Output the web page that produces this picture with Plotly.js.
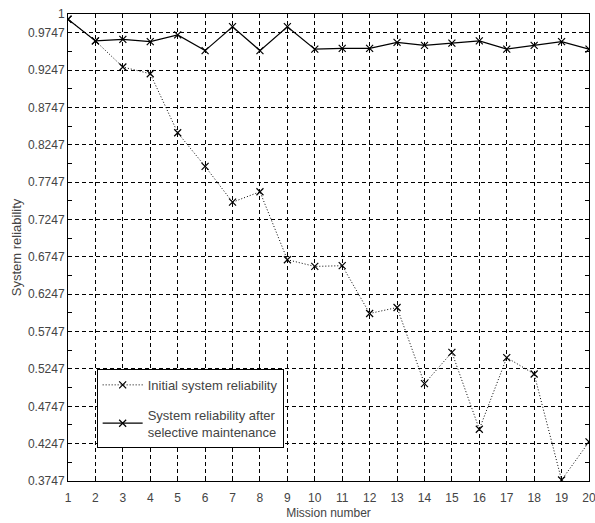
<!DOCTYPE html>
<html>
<head>
<meta charset="utf-8">
<script src="https://cdn.plot.ly/plotly-3.0.1.min.js"></script>
<style>html,body{margin:0;padding:0;background:#fff;}#chart{width:595px;height:523px;}</style>
</head>
<body>
<div id="chart"></div>
<script>
const missions = [1,2,3,4,5,6,7,8,9,10,11,12,13,14,15,16,17,18,19,20];
const initialReliability = [0.993,0.964,0.929,0.920,0.841,0.796,0.748,0.762,0.671,0.662,0.663,0.599,0.607,0.505,0.547,0.444,0.540,0.518,0.376,0.427];
const maintainedReliability = [0.993,0.964,0.966,0.963,0.972,0.951,0.983,0.951,0.983,0.953,0.954,0.954,0.962,0.958,0.961,0.964,0.953,0.958,0.963,0.953];
const yTickVals = [0.3747,0.4247,0.4747,0.5247,0.5747,0.6247,0.6747,0.7247,0.7747,0.8247,0.8747,0.9247,0.9747,1];
const yTickText = ['0.3747','0.4247','0.4747','0.5247','0.5747','0.6247','0.6747','0.7247','0.7747','0.8247','0.8747','0.9247','0.9747','1'];
const seriesNames = ['Initial system reliability','System reliability after<br>selective maintenance'];

const traces = [
  {x: missions, y: initialReliability, name: seriesNames[0], legendgroup: 'a', mode: 'lines+markers',
   line: {color: '#000', width: 1, dash: '1px,2px'},
   marker: {symbol: 'x-thin-open', size: 7, color: '#000', line: {color: '#000', width: 1.2}}},
  {x: missions, y: maintainedReliability, name: seriesNames[1], legendgroup: 'b', mode: 'lines+markers',
   line: {color: '#000', width: 1.2},
   marker: {symbol: 'x-thin-open', size: 7, color: '#000', line: {color: '#000', width: 1.2}}}
];

const tickFont = {family: 'Liberation Sans, Arial, sans-serif', size: 12, color: '#444'};
const layout = {
  width: 595, height: 523,
  margin: {l: 68, r: 6, t: 14, b: 42},
  paper_bgcolor: '#fff', plot_bgcolor: '#fff',
  showlegend: true,
  legend: {x: 0.055, y: 0.24, xanchor: 'left', yanchor: 'top', bgcolor: '#fff',
    bordercolor: '#000', borderwidth: 1, font: {family: 'Liberation Sans, Arial, sans-serif', size: 13, color: '#444'},
    itemwidth: 40, tracegroupgap: 10},
  xaxis: {range: [1, 20], tickmode: 'array', tickvals: missions, ticktext: missions.map(String),
    showline: true, linecolor: '#000', linewidth: 1, mirror: 'allticks',
    ticks: 'inside', ticklen: 4, tickcolor: '#000', ticklabeloverflow: 'allow', ticklabelstandoff: 6,
    showgrid: true, gridcolor: '#000', gridwidth: 1, griddash: '4px,3px',
    zeroline: false, tickfont: tickFont,
    title: {text: 'Mission number', font: tickFont, standoff: 4}},
  yaxis: {range: [0.3747, 1], tickmode: 'array', tickvals: yTickVals, ticktext: yTickText,
    showline: true, linecolor: '#000', linewidth: 1, mirror: 'allticks',
    ticks: 'inside', ticklen: 4, tickcolor: '#000',
    showgrid: true, gridcolor: '#000', gridwidth: 1, griddash: '4px,3px',
    minor: {tickmode: 'linear', tick0: 0.4, dtick: 0.05, ticks: 'inside', ticklen: 4, tickcolor: '#000', showgrid: false},
    zeroline: false, tickfont: tickFont,
    title: {text: 'System reliability', font: {family: 'Liberation Sans, Arial, sans-serif', size: 13, color: '#444'}, standoff: 3}}
};
Plotly.newPlot('chart', traces, layout, {displayModeBar: false, staticPlot: true});
</script>
</body>
</html>
